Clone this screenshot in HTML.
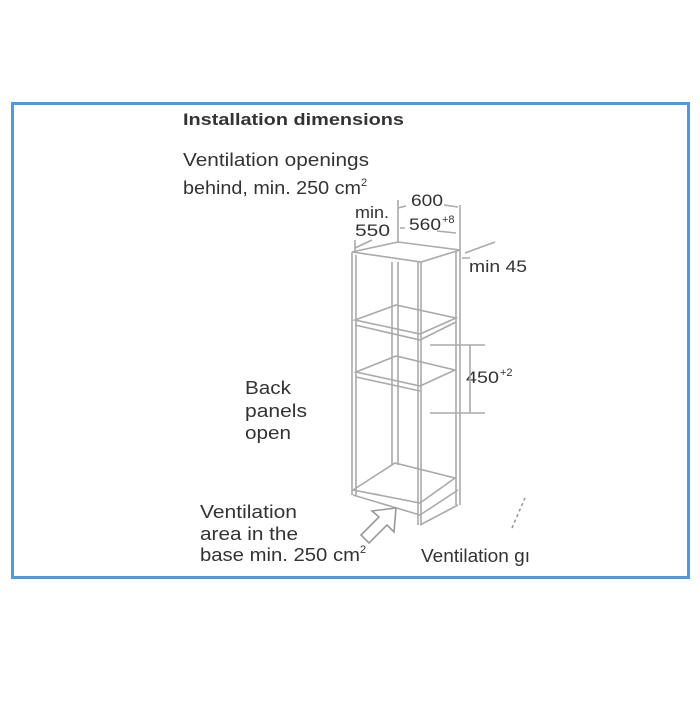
<!DOCTYPE html>
<html><head><style>
body{margin:0;background:#fff;width:700px;height:700px;overflow:hidden;font-family:"Liberation Sans",sans-serif;}
svg text{font-family:"Liberation Sans",sans-serif;fill:#333;}
</style></head><body>
<svg width="700" height="700" viewBox="0 0 700 700">
<rect x="12.5" y="103.5" width="676" height="474" fill="none" stroke="#4a9be6" stroke-width="3"/>
<text x="183" y="125" font-size="17" font-weight="bold" textLength="221" lengthAdjust="spacingAndGlyphs">Installation dimensions</text>
<text x="183" y="166" font-size="18" textLength="186" lengthAdjust="spacingAndGlyphs">Ventilation openings</text>
<text x="183" y="194" font-size="18"><tspan textLength="178" lengthAdjust="spacingAndGlyphs">behind, min. 250 cm</tspan><tspan font-size="11" dy="-8">2</tspan></text>
<text x="355" y="218" font-size="17" textLength="34" lengthAdjust="spacingAndGlyphs">min.</text>
<text x="355" y="236" font-size="17" textLength="35" lengthAdjust="spacingAndGlyphs">550</text>
<text x="411" y="206" font-size="17" textLength="32" lengthAdjust="spacingAndGlyphs">600</text>
<text x="409" y="230" font-size="17" textLength="32" lengthAdjust="spacingAndGlyphs">560</text><text x="442" y="223" font-size="11">+8</text>
<text x="469" y="272" font-size="17" textLength="58" lengthAdjust="spacingAndGlyphs">min 45</text>
<text x="466" y="383" font-size="17" textLength="33" lengthAdjust="spacingAndGlyphs">450</text><text x="500" y="376" font-size="11">+2</text>
<text x="245" y="394" font-size="18" textLength="46" lengthAdjust="spacingAndGlyphs">Back</text>
<text x="245" y="417" font-size="18" textLength="62" lengthAdjust="spacingAndGlyphs">panels</text>
<text x="245" y="439" font-size="18" textLength="46" lengthAdjust="spacingAndGlyphs">open</text>
<text x="200" y="518" font-size="18" textLength="97" lengthAdjust="spacingAndGlyphs">Ventilation</text>
<text x="200" y="540" font-size="18" textLength="98" lengthAdjust="spacingAndGlyphs">area in the</text>
<text x="200" y="561" font-size="18"><tspan textLength="160" lengthAdjust="spacingAndGlyphs">base min. 250 cm</tspan><tspan font-size="11" dy="-8">2</tspan></text>
<text x="421" y="562" font-size="18" textLength="109" lengthAdjust="spacingAndGlyphs">Ventilation gı</text>
<g fill="none" stroke="#aaa" stroke-width="1.6">
<path d="M352 252 L398 242 L460 250 L421 262 Z"/>
<path d="M352 252 L352 495 M356 255 L356 495 M421 262 L421 525 M418 262 L418 525 M460 250 L460 505 M456 252 L456 505 M392 262 L392 465 M398 262 L398 465"/>
<path d="M355 320 L396 305 L456 318 L420 334 Z M355 325 L420 340 L456 322"/>
<path d="M356 372 L396 356 L455 370 L420 386 Z M356 377 L420 391"/>
<path d="M353 490 L395 463 L455 478 L420 503 Z M353 495 L420 515 L458 490 M420 525 L458 505"/>
<path d="M398 200 L398 243 M460 205 L460 250 M398 208 L406 206 M444 205 L458 207 M400 228 L405 228 M437 231 L456 233 M355 240 L355 252 M355 248 L372 240 M465 253 L495 242 M462 258 L470 258 M430 345 L485 345 M430 413 L485 413 M470 345 L470 413"/>
<path d="M396 508 L394 532 L387 525 L369 543 L361 535 L379 517 L372 511 Z" stroke="#999" fill="#fff"/>
<path d="M512 528 L525 498" stroke="#999" stroke-dasharray="3 3"/>
</g>
</svg>
</body></html>
